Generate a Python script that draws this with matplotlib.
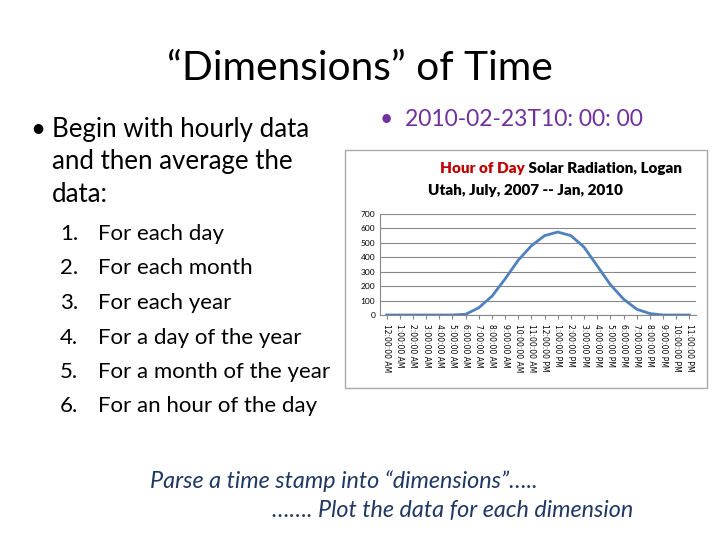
import matplotlib
matplotlib.use("Agg")
import matplotlib.pyplot as plt
from matplotlib.patches import Rectangle

hours = list(range(24))
radiation = [0, 0, 0, 0, 0, 0, 5, 50, 130, 250, 380, 480, 550, 575, 550, 470, 340, 210, 110, 40, 10, 0, 0, 0]
hour_labels = ["12:00:00 AM"] + [f"{h}:00:00 AM" for h in range(1, 12)] + \
              ["12:00:00 PM"] + [f"{h}:00:00 PM" for h in range(1, 12)]
steps = ["For each day", "For each month", "For each year", "For a day of the year",
         "For a month of the year", "For an hour of the day"]

W, H = 720, 540
fig = plt.figure(figsize=(7.2, 5.4), dpi=100)
plt.rcParams["font.family"] = ["Lato", "DejaVu Sans"]


def fx(x):
    return x / W


def fy(y):
    return 1 - y / H


fig.text(fx(360), fy(68), "\u201cDimensions\u201d of Time", ha="center", va="center", fontsize=29.3)
fig.text(fx(30), fy(130), "\u2022", ha="left", va="center", fontsize=18.6)
for i, line in enumerate(["Begin with hourly data", "and then average the", "data:"]):
    fig.text(fx(52), fy(130 + 32 * i), line, ha="left", va="center", fontsize=18.6)
for i, s in enumerate(steps):
    y = 234 + 34.5 * i
    fig.text(fx(60), fy(y), f"{i + 1}.", ha="left", va="center", fontsize=16)
    fig.text(fx(98), fy(y), s, ha="left", va="center", fontsize=16)
fig.text(fx(380), fy(120), "\u2022  2010-02-23T10: 00: 00", ha="left", va="center", fontsize=16.5, color="#7030a0")
fig.text(fx(150), fy(481), "Parse a time stamp into \u201cdimensions\u201d\u2026..", ha="left", va="center",
         fontsize=16.8, style="italic", color="#1f3864")
fig.text(fx(272), fy(510), "\u2026\u2026. Plot the data for each dimension", ha="left", va="center",
         fontsize=16.8, style="italic", color="#1f3864")

# inset chart frame
fig.patches.append(Rectangle((fx(345), fy(388)), fx(362), (388 - 150) / H, transform=fig.transFigure,
                             facecolor="white", edgecolor="#aaaaaa", linewidth=1, zorder=-1))
fig.text(fx(525), fy(169), "Hour of Day", ha="right", va="center", fontsize=11, color="#c00000",
         fontweight="heavy")
fig.text(fx(525), fy(169), " Solar Radiation, Logan", ha="left", va="center", fontsize=11,
         fontweight="heavy")
fig.text(fx(525), fy(191), "Utah, July, 2007 -- Jan, 2010", ha="center", va="center", fontsize=11,
         fontweight="heavy")

ax = fig.add_axes([fx(380), fy(315), fx(316), (315 - 214) / H])
ax.patch.set_alpha(0)
ax.plot(hours, radiation, color="#4f81bd", linewidth=2)
ax.set_xlim(-0.5, 23.5)
ax.set_ylim(0, 700)
ax.set_yticks(range(0, 701, 100))
ax.set_xticks(hours)
ax.set_xticklabels(hour_labels, rotation=270, fontsize=5.5, family="DejaVu Sans")
ax.tick_params(axis="y", labelsize=6, length=0)
ax.tick_params(axis="x", length=3, color="#888888")
ax.grid(axis="y", color="#888888", linewidth=0.8)
ax.set_axisbelow(True)
for side in ["top", "right"]:
    ax.spines[side].set_visible(False)
ax.spines["left"].set_color("#888888")
ax.spines["bottom"].set_color("#888888")

fig.savefig("out.png", dpi=100)
